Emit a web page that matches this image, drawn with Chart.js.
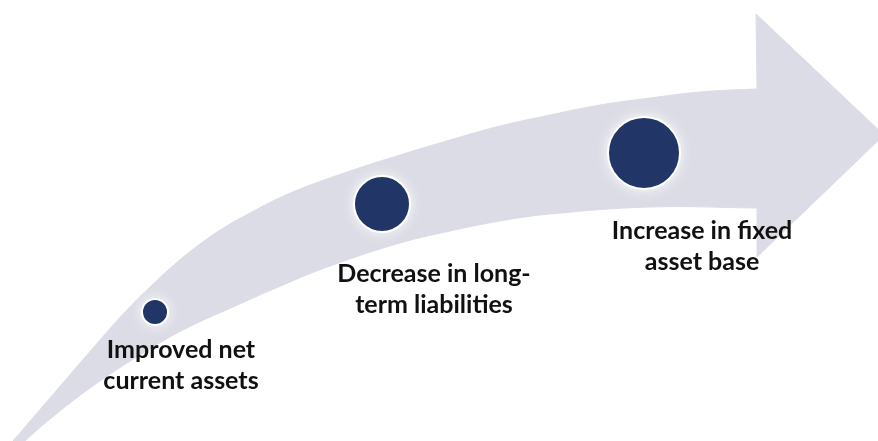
<!DOCTYPE html>
<html>
<head>
<meta charset="utf-8">
<script src="https://cdn.jsdelivr.net/npm/chart.js@4/dist/chart.umd.min.js"></script>
<style>
  html, body { margin: 0; padding: 0; background: #ffffff; }
  #wrap { width: 878px; height: 441px; position: relative; }
</style>
</head>
<body>
<div id="wrap"><canvas id="stepsChart"></canvas></div>
<script>
// steps along the arrow
const stepLines = [
  ['Improved net', 'current assets'],
  ['Decrease in long-', 'term liabilities'],
  ['Increase in fixed', 'asset base']
];
const stepX = [155, 382, 644];
const stepY = [312, 204, 153];
const stepRadius = [13, 28, 36];

// arrow outline (y grows downward)
const shaftTop = [[4, 452], [13, 441], [50, 398], [100, 340], [125, 312], [150, 287], [175, 264],
  [200, 244], [225, 227], [250, 213], [275, 200], [300, 189], [350, 171], [400, 155], [450, 140],
  [500, 126], [550, 115], [600, 105], [650, 98], [700, 92], [757, 89], [775, 89]];
const shaftBottom = [[775, 208], [757, 208], [650, 207], [550, 214], [500, 221], [450, 231], [400, 243],
  [330, 266], [283, 285], [233, 307], [183, 330], [140, 355], [100, 381], [60, 411], [25, 441], [16, 452]];
const headPoints = [[757, 89], [756, 14], [884, 135], [757, 257], [757, 208]];

// label anchors: centre x, first baseline y
const labelAnchors = [[181, 358], [434, 282], [702, 239]];

const ARROW = '#dcdce6';
const NAVY = '#213666';

const toXY = pts => pts.map(p => ({ x: p[0], y: p[1] }));

// soft white halo behind each circle
const glowPlugin = {
  id: 'glow',
  beforeDatasetDraw(chart, args) {
    if (args.meta.type !== 'bubble') return;
    const ctx = chart.ctx;
    ctx.save();
    ctx.shadowColor = 'rgba(255,255,255,1)';
    ctx.shadowBlur = 14;
    ctx.fillStyle = '#ffffff';
    args.meta.data.forEach(el => {
      ctx.beginPath();
      ctx.arc(el.x, el.y, el.options.radius, 0, Math.PI * 2);
      ctx.fill();
    });
    ctx.restore();
  }
};

const labelPlugin = {
  id: 'stepLabels',
  afterDatasetsDraw(chart) {
    const { ctx, scales: { x, y } } = chart;
    ctx.save();
    ctx.font = 'bold 25px Lato';
    ctx.fillStyle = '#111111';
    ctx.textAlign = 'center';
    ctx.textBaseline = 'alphabetic';
    stepLines.forEach((lines, i) => {
      const cx = x.getPixelForValue(labelAnchors[i][0]);
      const by = y.getPixelForValue(labelAnchors[i][1]);
      lines.forEach((line, j) => ctx.fillText(line, cx, by + j * 31));
    });
    ctx.restore();
  }
};

function buildChart() {
  new Chart(document.getElementById('stepsChart'), {
    type: 'bubble',
    data: {
      datasets: [
        {
          type: 'bubble',
          data: stepX.map((v, i) => ({ x: v, y: stepY[i], r: stepRadius[i] })),
          backgroundColor: NAVY,
          borderColor: '#ffffff',
          borderWidth: 2,
          order: 0,
          clip: false
        },
        {
          type: 'line',
          data: toXY(shaftTop.concat(shaftBottom)),
          fill: 'shape',
          backgroundColor: ARROW,
          borderColor: ARROW,
          borderWidth: 1,
          pointRadius: 0,
          tension: 0.4,
          order: 2
        },
        {
          type: 'line',
          data: toXY(headPoints),
          fill: 'shape',
          backgroundColor: ARROW,
          borderColor: ARROW,
          borderWidth: 1,
          pointRadius: 0,
          tension: 0,
          order: 1
        }
      ]
    },
    options: {
      responsive: true,
      maintainAspectRatio: false,
      animation: false,
      events: [],
      layout: { padding: 0, autoPadding: false },
      plugins: {
        legend: { display: false },
        tooltip: { enabled: false }
      },
      scales: {
        x: { type: 'linear', min: 0, max: 878, display: false },
        y: { type: 'linear', min: 0, max: 441, reverse: true, display: false }
      }
    },
    plugins: [glowPlugin, labelPlugin]
  });
}

document.fonts.load('bold 25px Lato').then(buildChart, buildChart);
</script>
</body>
</html>
